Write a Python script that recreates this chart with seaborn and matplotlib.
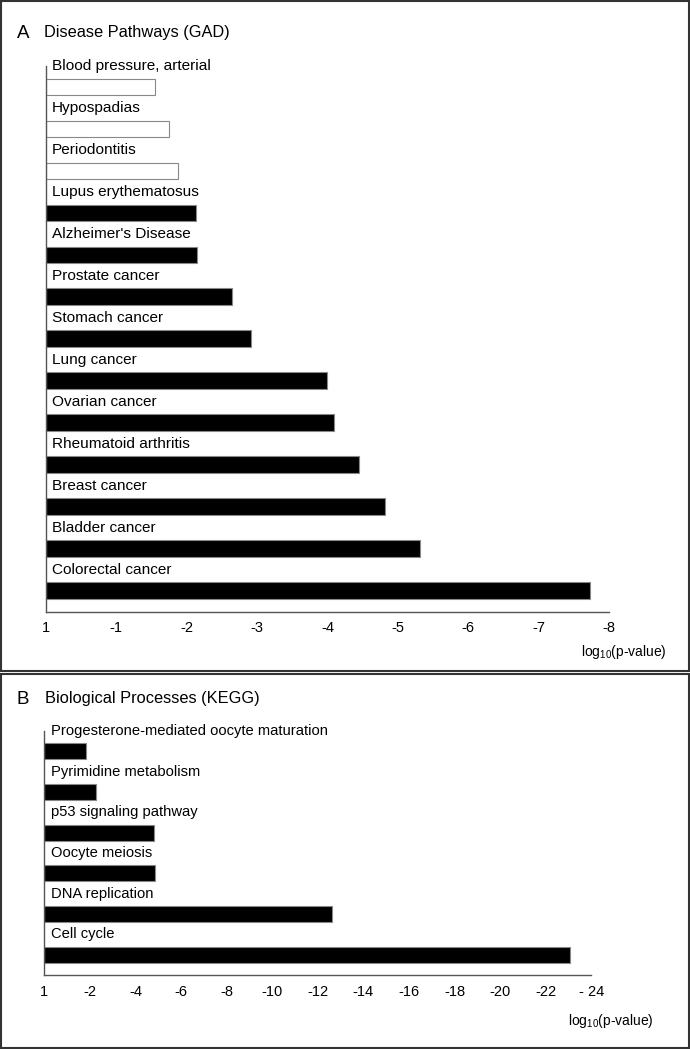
import numpy as np
import pandas as pd
import seaborn as sns
import matplotlib.pyplot as plt
from matplotlib.patches import Rectangle

# Panel A - disease pathways (GAD), -log10(p) magnitudes
gad_terms = ["Blood pressure, arterial", "Hypospadias", "Periodontitis",
             "Lupus erythematosus", "Alzheimer's Disease", "Prostate cancer",
             "Stomach cancer", "Lung cancer", "Ovarian cancer",
             "Rheumatoid arthritis", "Breast cancer", "Bladder cancer",
             "Colorectal cancer"]
gad_logp = [1.56, 1.75, 1.88, 2.14, 2.15, 2.64, 2.92, 3.99, 4.10, 4.45, 4.82, 5.32, 7.73]
gad_sig = [False, False, False] + [True] * 10
gad_ticks = [0, 1, 2, 3, 4, 5, 6, 7, 8]
gad_ticklabels = ["1", "-1", "-2", "-3", "-4", "-5", "-6", "-7", "-8"]

# Panel B - biological processes (KEGG)
kegg_terms = ["Progesterone-mediated oocyte maturation", "Pyrimidine metabolism",
              "p53 signaling pathway", "Oocyte meiosis", "DNA replication", "Cell cycle"]
kegg_logp = [1.82, 2.28, 4.80, 4.87, 12.62, 23.05]
kegg_sig = [True] * 6
kegg_ticks = [0, 2, 4, 6, 8, 10, 12, 14, 16, 18, 20, 22, 24]
kegg_ticklabels = ["1", "-2", "-4", "-6", "-8", "-10", "-12", "-14", "-16",
                   "-18", "-20", "-22", "- 24"]

sns.set_style("white")
plt.rcParams['font.family'] = ['Liberation Sans', 'DejaVu Sans']
plt.rcParams['text.color'] = 'black'
plt.rcParams['xtick.labelcolor'] = 'black'
plt.rcParams['mathtext.fontset'] = 'custom'
plt.rcParams['mathtext.rm'] = 'Liberation Sans'
plt.rcParams['mathtext.it'] = 'Liberation Sans:italic'

W, H = 690, 1049
fig = plt.figure(figsize=(6.9, 10.49), dpi=100)


def px_axes(left, right, top, bottom):
    return fig.add_axes([left / W, (H - bottom) / H, (right - left) / W, (bottom - top) / H])


def panel(ax, terms, vals, sig, ticks, ticklabels, lab_size):
    df = pd.DataFrame({"term": terms, "value": vals})
    pal = {t: ("black" if s else "white") for t, s in zip(terms, sig)}
    sns.barplot(data=df, x="value", y="term", hue="term", palette=pal, orient="h",
                width=0.4, edgecolor="#888888", linewidth=0.8, legend=False, ax=ax,
                saturation=1)
    n = len(terms)
    ax.set_xlim(ticks[0], ticks[-1])
    ax.set_ylim(n - 0.5, -0.5)
    ax.set_xticks(ticks)
    ax.set_xticklabels(ticklabels, fontsize=10.5)
    ax.set_yticks(np.arange(n) - 0.5)
    ax.set_yticklabels([])
    ax.set_xlabel("")
    ax.set_ylabel("")
    ax.tick_params(axis="x", direction="out", length=3, width=0.8, color="#555555",
                   labelcolor="black", pad=4)
    ax.tick_params(axis="y", direction="in", length=2.5, width=0.8, color="#555555")
    for s in ["top", "right"]:
        ax.spines[s].set_visible(False)
    for s in ["left", "bottom"]:
        ax.spines[s].set_color("#555555")
        ax.spines[s].set_linewidth(1)
    for i, t in enumerate(terms):
        ax.annotate(t, xy=(0, i - 0.5), xytext=(4.5, 0), textcoords="offset points",
                    va="center", ha="left", fontsize=lab_size, color="black")


axA = px_axes(45.5, 609.3, 66, 611.7)
panel(axA, gad_terms, gad_logp, gad_sig, gad_ticks, gad_ticklabels, 11.1)
axB = px_axes(44.3, 591.3, 731, 975)
panel(axB, kegg_terms, kegg_logp, kegg_sig, kegg_ticks, kegg_ticklabels, 10.6)

# panel frames
for top, bottom in [(1, 671), (674, 1048)]:
    fig.add_artist(Rectangle((1 / W, (H - bottom) / H), (W - 2) / W, (bottom - top) / H,
                             transform=fig.transFigure, fill=False,
                             edgecolor="#333333", linewidth=1.5))

# panel titles
fig.text(17 / W, 1 - 33 / H, "A", fontsize=13.5, va="center", ha="left")
fig.text(43.7 / W, 1 - 33 / H, "Disease Pathways (GAD)", fontsize=11.8, va="center", ha="left")
fig.text(17 / W, 1 - 699 / H, "B", fontsize=13.5, va="center", ha="left")
fig.text(45 / W, 1 - 699 / H, "Biological Processes (KEGG)", fontsize=11.8, va="center", ha="left")

# axis labels
xlab = r"log$_{\mathregular{10}}$(p-value)"
fig.text(667 / W, 1 - 652 / H, xlab, fontsize=10, va="center", ha="right")
fig.text(654 / W, 1 - 1021 / H, xlab, fontsize=10, va="center", ha="right")

fig.savefig("out.png", dpi=100)
